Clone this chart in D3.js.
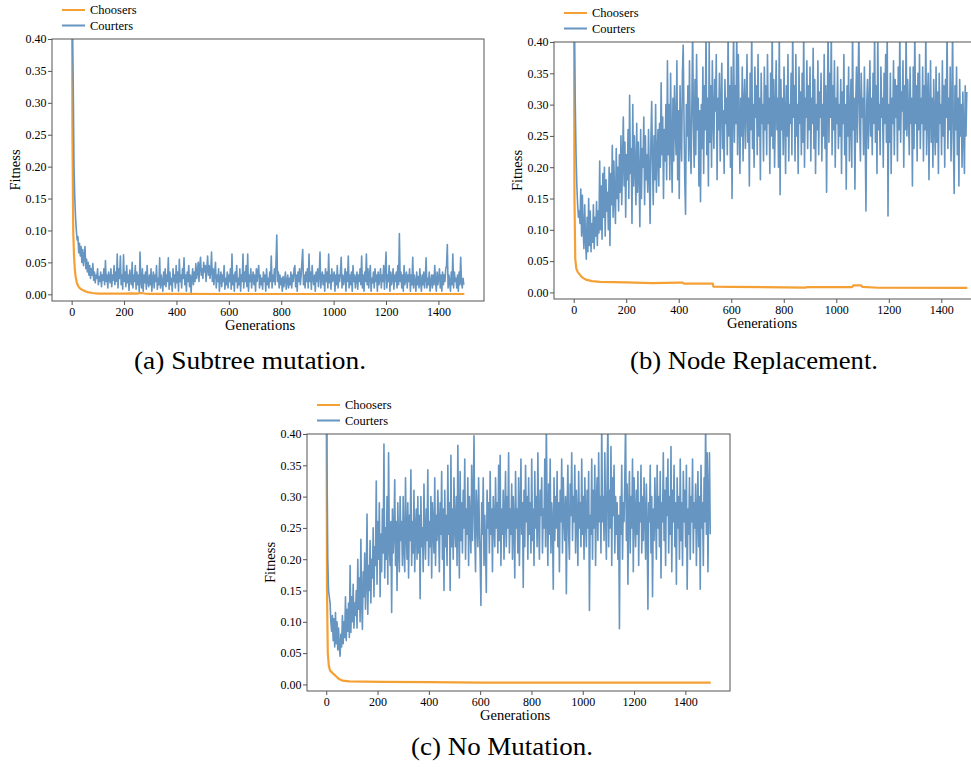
<!DOCTYPE html>
<html><head><meta charset="utf-8">
<script src="https://cdn.jsdelivr.net/npm/d3@7"></script>
<style>body{margin:0;background:#fff}svg{display:block}
text{font-family:"Liberation Serif","Tinos","DejaVu Serif","Noto Serif",serif}</style>
</head><body>
<svg id="fig" width="971" height="767"></svg>
<script>
// ---------- DATA ----------
const seriesNames = ["Choosers", "Courters"];
const captions = ["(a) Subtree mutation.", "(b) Node Replacement.", "(c) No Mutation."];
const xTicks = [0, 200, 400, 600, 800, 1000, 1200, 1400];
const yTicks = [0.00, 0.05, 0.10, 0.15, 0.20, 0.25, 0.30, 0.35, 0.40];
const courterStep = 3; // courter values every 3 generations: 0,3,...,1497

const courtersA = [
0.62,0.42,0.33,0.2,0.15,0.12,0.1,0.085,0.09,0.065,0.08,0.06,0.075,0.05,0.07,0.045,0.06,0.075,0.04,0.055,
0.035,0.05,0.03,0.045,0.025,0.04,0.03,0.048,0.022,0.035,0.018,0.03,0.025,0.04,0.015,0.028,0.02,0.035,0.012,0.03,
0.022,0.04,0.015,0.053,0.02,0.03,0.01,0.035,0.025,0.018,0.04,0.012,0.03,0.022,0.045,0.015,0.035,0.02,0.063,0.01,
0.04,0.025,0.06,0.015,0.03,0.008,0.062,0.02,0.035,0.012,0.045,0.018,0.03,0.006,0.038,0.025,0.015,0.05,0.01,0.03,
0.02,0.045,0.008,0.035,0.015,0.03,0.004,0.066,0.02,0.01,0.04,0.005,0.03,0.018,0.035,0.008,0.045,0.02,0.012,0.03,
0.015,0.04,0.005,0.025,0.035,0.01,0.03,0.02,0.045,0.008,0.025,0.015,0.057,0.01,0.03,0.02,0.005,0.035,0.015,0.04,
0.012,0.03,0.02,0.057,0.008,0.035,0.015,0.025,0.005,0.04,0.02,0.03,0.01,0.045,0.018,0.035,0.005,0.055,0.02,0.03,
0.01,0.04,0.025,0.057,0.015,0.03,0.005,0.035,0.02,0.045,0.012,0.03,0.003,0.025,0.04,0.015,0.035,0.02,0.048,0.025,
0.035,0.05,0.02,0.045,0.058,0.03,0.04,0.025,0.05,0.035,0.045,0.02,0.04,0.06,0.03,0.045,0.025,0.035,0.066,0.02,
0.04,0.015,0.035,0.05,0.01,0.03,0.02,0.04,0.005,0.025,0.035,0.012,0.03,0.02,0.045,0.008,0.025,0.015,0.035,0.01,
0.03,0.02,0.04,0.008,0.063,0.015,0.03,0.005,0.035,0.02,0.045,0.01,0.025,0.015,0.04,0.005,0.03,0.02,0.063,0.01,
0.035,0.02,0.045,0.012,0.063,0.005,0.03,0.02,0.04,0.01,0.025,0.035,0.015,0.03,0.005,0.04,0.02,0.035,0.045,0.01,
0.03,0.015,0.025,0.008,0.035,0.02,0.03,0.005,0.04,0.015,0.025,0.01,0.035,0.02,0.06,0.01,0.03,0.02,0.04,0.015,
0.05,0.093,0.02,0.035,0.01,0.03,0.015,0.025,0.005,0.028,0.012,0.022,0.035,0.008,0.02,0.03,0.01,0.025,0.015,0.035,
0.01,0.03,0.02,0.04,0.045,0.012,0.03,0.005,0.035,0.02,0.04,0.015,0.03,0.05,0.07,0.015,0.03,0.01,0.035,0.02,
0.04,0.01,0.063,0.02,0.035,0.008,0.045,0.025,0.015,0.03,0.005,0.035,0.02,0.04,0.012,0.03,0.066,0.01,0.025,0.035,
0.015,0.03,0.005,0.04,0.02,0.035,0.01,0.063,0.018,0.03,0.008,0.04,0.02,0.025,0.035,0.005,0.03,0.015,0.045,0.01,
0.03,0.02,0.035,0.058,0.01,0.03,0.015,0.025,0.04,0.005,0.035,0.02,0.06,0.01,0.03,0.015,0.035,0.005,0.045,0.02,
0.03,0.01,0.025,0.035,0.008,0.03,0.02,0.04,0.015,0.06,0.01,0.03,0.005,0.035,0.02,0.063,0.015,0.04,0.01,0.03,
0.045,0.005,0.025,0.018,0.035,0.01,0.04,0.02,0.03,0.005,0.035,0.015,0.025,0.04,0.01,0.03,0.02,0.045,0.008,0.035,
0.066,0.01,0.03,0.02,0.045,0.005,0.035,0.015,0.025,0.04,0.008,0.03,0.02,0.035,0.01,0.045,0.015,0.095,0.02,0.035,
0.01,0.03,0.005,0.045,0.015,0.025,0.035,0.01,0.03,0.02,0.04,0.005,0.03,0.015,0.058,0.01,0.03,0.02,0.005,0.035,
0.015,0.028,0.01,0.04,0.02,0.005,0.03,0.015,0.035,0.01,0.025,0.057,0.01,0.025,0.015,0.035,0.005,0.02,0.03,0.01,
0.03,0.015,0.045,0.02,0.005,0.035,0.015,0.025,0.04,0.01,0.03,0.005,0.035,0.015,0.03,0.02,0.04,0.045,0.078,0.01,
0.03,0.02,0.005,0.035,0.015,0.063,0.01,0.035,0.02,0.025,0.01,0.03,0.005,0.035,0.015,0.058,0.02,0.01,0.025,0.015
];
const courtersB = [
0.62,0.42,0.30,0.22,0.17,0.14,0.12,0.13,0.11,0.165,0.09,0.155,0.10,0.07,0.14,0.085,0.053,0.12,0.065,0.15,
0.075,0.13,0.065,0.11,0.08,0.14,0.07,0.12,0.09,0.145,0.075,0.13,0.095,0.21,0.10,0.17,0.085,0.19,0.12,0.20,
0.09,0.18,0.13,0.16,0.10,0.20,0.075,0.19,0.14,0.235,0.12,0.21,0.15,0.11,0.23,0.15,0.20,0.13,0.22,0.16,
0.25,0.14,0.21,0.28,0.17,0.24,0.12,0.22,0.18,0.26,0.15,0.315,0.19,0.23,0.11,0.30,0.17,0.25,0.20,0.14,
0.27,0.16,0.24,0.19,0.105,0.26,0.15,0.23,0.20,0.28,0.14,0.25,0.18,0.22,0.16,0.26,0.19,0.11,0.24,0.305,
0.21,0.14,0.25,0.18,0.30,0.16,0.22,0.26,0.17,0.27,0.20,0.335,0.22,0.28,0.15,0.26,0.21,0.30,0.18,0.37,
0.22,0.30,0.18,0.35,0.24,0.16,0.31,0.21,0.33,0.26,0.22,0.37,0.18,0.29,0.15,0.33,0.25,0.21,0.35,0.395,
0.28,0.18,0.125,0.30,0.25,0.33,0.21,0.37,0.24,0.19,0.30,0.42,0.27,0.20,0.34,0.22,0.38,0.26,0.31,0.17,
0.29,0.145,0.30,0.23,0.36,0.19,0.33,0.26,0.42,0.22,0.31,0.17,0.40,0.24,0.33,0.20,0.37,0.28,0.23,0.34,
0.29,0.38,0.18,0.31,0.26,0.35,0.21,0.30,0.366,0.23,0.29,0.19,0.34,0.27,0.31,0.22,0.42,0.25,0.33,0.20,
0.36,0.15,0.30,0.42,0.24,0.33,0.27,0.42,0.22,0.38,0.28,0.19,0.31,0.25,0.36,0.21,0.30,0.34,0.23,0.29,
0.38,0.24,0.31,0.17,0.35,0.26,0.42,0.23,0.30,0.20,0.36,0.28,0.33,0.22,0.38,0.25,0.31,0.18,0.35,0.27,
0.30,0.21,0.36,0.26,0.33,0.22,0.38,0.27,0.31,0.19,0.35,0.25,0.42,0.23,0.34,0.20,0.29,0.37,0.26,0.31,
0.20,0.42,0.156,0.34,0.26,0.31,0.22,0.36,0.28,0.19,0.33,0.25,0.38,0.21,0.30,0.27,0.35,0.22,0.42,0.28,
0.33,0.21,0.38,0.25,0.30,0.19,0.36,0.27,0.32,0.22,0.35,0.24,0.42,0.20,0.31,0.28,0.37,0.23,0.33,0.26,
0.36,0.21,0.31,0.27,0.39,0.23,0.34,0.19,0.30,0.26,0.37,0.22,0.32,0.28,0.35,0.21,0.30,0.25,0.38,0.23,
0.33,0.16,0.30,0.42,0.24,0.35,0.28,0.42,0.22,0.33,0.26,0.37,0.20,0.31,0.27,0.36,0.23,0.30,0.25,0.34,
0.19,0.32,0.27,0.38,0.22,0.30,0.165,0.33,0.25,0.36,0.21,0.28,0.34,0.20,0.42,0.26,0.31,0.165,0.30,0.36,
0.24,0.33,0.42,0.27,0.21,0.35,0.28,0.31,0.22,0.36,0.26,0.13,0.30,0.34,0.23,0.29,0.37,0.25,0.31,0.22,
0.35,0.27,0.42,0.24,0.33,0.19,0.42,0.26,0.30,0.22,0.36,0.28,0.31,0.20,0.35,0.27,0.38,0.24,0.42,0.122,
0.30,0.24,0.35,0.19,0.31,0.27,0.37,0.22,0.34,0.28,0.33,0.21,0.36,0.26,0.42,0.24,0.32,0.29,0.37,0.20,
0.33,0.26,0.42,0.25,0.34,0.28,0.22,0.36,0.27,0.31,0.17,0.36,0.23,0.42,0.27,0.33,0.21,0.35,0.26,0.38,
0.23,0.31,0.27,0.36,0.21,0.33,0.26,0.42,0.22,0.30,0.35,0.18,0.29,0.37,0.24,0.31,0.20,0.34,0.27,0.22,
0.36,0.24,0.32,0.19,0.35,0.27,0.30,0.22,0.37,0.25,0.33,0.20,0.34,0.28,0.42,0.23,0.31,0.26,0.36,0.21,
0.29,0.42,0.24,0.158,0.33,0.26,0.36,0.22,0.31,0.17,0.34,0.25,0.30,0.20,0.32,0.26,0.19,0.33,0.25,0.32
];
const courtersC = [
0.62,0.35,0.20,0.15,0.14,0.13,0.10,0.085,0.11,0.07,0.105,0.06,0.115,0.065,0.10,0.055,0.09,0.06,0.045,0.08,
0.06,0.11,0.065,0.10,0.075,0.14,0.07,0.12,0.085,0.13,0.075,0.19,0.083,0.14,0.10,0.16,0.09,0.13,0.11,0.15,
0.09,0.20,0.12,0.17,0.10,0.232,0.13,0.088,0.18,0.14,0.21,0.12,0.17,0.272,0.112,0.19,0.15,0.23,0.13,0.20,
0.17,0.25,0.14,0.22,0.19,0.325,0.16,0.26,0.20,0.29,0.14,0.24,0.18,0.28,0.21,0.384,0.17,0.25,0.20,0.30,
0.16,0.37,0.22,0.19,0.26,0.115,0.28,0.21,0.24,0.327,0.19,0.26,0.15,0.29,0.22,0.18,0.30,0.23,0.26,0.19,
0.30,0.22,0.18,0.33,0.24,0.20,0.29,0.17,0.27,0.23,0.343,0.19,0.26,0.21,0.31,0.18,0.25,0.28,0.20,0.30,
0.21,0.27,0.137,0.30,0.22,0.25,0.18,0.32,0.24,0.20,0.28,0.23,0.343,0.19,0.26,0.22,0.30,0.17,0.29,0.25,
0.21,0.33,0.19,0.27,0.23,0.31,0.26,0.18,0.29,0.24,0.34,0.20,0.28,0.15,0.31,0.22,0.27,0.19,0.35,0.24,
0.29,0.15,0.366,0.22,0.28,0.20,0.33,0.25,0.22,0.30,0.19,0.382,0.26,0.17,0.34,0.23,0.29,0.21,0.31,0.25,
0.36,0.20,0.28,0.24,0.33,0.19,0.30,0.26,0.21,0.35,0.23,0.29,0.397,0.24,0.18,0.31,0.27,0.22,0.33,0.25,
0.20,0.126,0.29,0.24,0.33,0.19,0.27,0.22,0.147,0.31,0.25,0.29,0.21,0.34,0.24,0.28,0.18,0.30,0.26,0.22,
0.33,0.25,0.29,0.21,0.35,0.23,0.366,0.19,0.28,0.24,0.31,0.20,0.27,0.34,0.22,0.30,0.25,0.37,0.21,0.28,
0.24,0.32,0.20,0.30,0.26,0.17,0.34,0.25,0.28,0.21,0.33,0.19,0.27,0.36,0.24,0.29,0.155,0.31,0.22,0.35,
0.26,0.30,0.20,0.33,0.24,0.29,0.21,0.36,0.23,0.28,0.19,0.34,0.25,0.30,0.22,0.37,0.26,0.20,0.31,0.27,
0.33,0.21,0.28,0.25,0.36,0.22,0.42,0.27,0.19,0.32,0.24,0.36,0.21,0.29,0.26,0.152,0.33,0.23,0.30,0.25,
0.34,0.22,0.29,0.18,0.31,0.26,0.36,0.21,0.33,0.27,0.23,0.30,0.145,0.28,0.35,0.24,0.20,0.32,0.27,0.37,
0.23,0.30,0.26,0.35,0.21,0.31,0.27,0.19,0.34,0.25,0.29,0.22,0.36,0.24,0.30,0.20,0.33,0.27,0.22,0.31,
0.25,0.34,0.118,0.27,0.24,0.36,0.20,0.31,0.25,0.35,0.19,0.29,0.33,0.23,0.37,0.26,0.30,0.21,0.42,0.26,
0.30,0.23,0.37,0.27,0.20,0.33,0.42,0.22,0.31,0.25,0.38,0.19,0.33,0.27,0.35,0.21,0.30,0.24,0.29,0.20,
0.27,0.089,0.30,0.24,0.35,0.20,0.29,0.26,0.33,0.42,0.23,0.32,0.16,0.28,0.34,0.21,0.30,0.25,0.36,0.18,
0.33,0.27,0.22,0.31,0.24,0.34,0.19,0.29,0.26,0.35,0.21,0.30,0.23,0.33,0.27,0.20,0.32,0.25,0.12,0.29,
0.26,0.35,0.21,0.30,0.14,0.28,0.23,0.33,0.27,0.20,0.35,0.25,0.30,0.22,0.34,0.17,0.29,0.26,0.37,0.23,
0.31,0.19,0.33,0.27,0.36,0.21,0.30,0.24,0.38,0.18,0.31,0.26,0.35,0.22,0.29,0.16,0.33,0.25,0.30,0.20,
0.36,0.23,0.29,0.19,0.34,0.26,0.31,0.22,0.35,0.152,0.28,0.24,0.33,0.20,0.30,0.26,0.36,0.21,0.29,0.25,
0.32,0.19,0.27,0.34,0.22,0.30,0.152,0.35,0.25,0.29,0.19,0.33,0.26,0.42,0.24,0.37,0.18,0.30,0.37,0.24
];

const chooserGensA = [0,3,6,9,12,15,20,25,30,40,50,60,80,100,150,200,230,250,265,280,300,400,600,800,1000,1200,1499];
const choosersA   = [0.62,0.25,0.10,0.06,0.04,0.028,0.018,0.013,0.01,0.007,0.005,0.0035,0.002,0.0012,0.001,0.0012,0.0015,0.001,0.002,0.0012,0.0008,0.0006,0.0005,0.0005,0.0005,0.0005,0.0005];
const chooserGensB = [0,3,6,10,15,20,30,40,50,70,100,150,200,300,400,415,420,530,532,600,800,880,890,1060,1065,1095,1100,1160,1499];
const choosersB   = [0.62,0.15,0.053,0.038,0.033,0.03,0.025,0.022,0.02,0.018,0.017,0.0165,0.016,0.015,0.0155,0.0155,0.014,0.014,0.0092,0.0088,0.0082,0.0078,0.0085,0.0085,0.0112,0.0112,0.0088,0.0075,0.0072];
const chooserGensC = [0,3,6,10,15,20,25,38,50,64,90,150,220,400,608,800,1200,1499];
const choosersC   = [0.62,0.15,0.051,0.03,0.022,0.02,0.018,0.013,0.0085,0.006,0.005,0.0045,0.004,0.0038,0.003,0.003,0.003,0.003];

// ---------- STYLE / LAYOUT ----------
const ORANGE = "#f5a034", BLUE = "#6595c0", SPINE = "#555";
const panels = [
  {l:52, r:484, t:39, b:301, co:courtersA, chG:chooserGensA, ch:choosersA, capX:250, capY:369},
  {l:554, r:987, t:42, b:299, co:courtersB, chG:chooserGensB, ch:choosersB, capX:754, capY:369},
  {l:307, r:730, t:434, b:691, co:courtersC, chG:chooserGensC, ch:choosersC, capX:502, capY:755}
];
const capWidths = [232, 248, 182];

const svg = d3.select("#fig");
const defs = svg.append("defs");

panels.forEach((p, idx) => {
  const x = d3.scaleLinear().domain([-75, 1574]).range([p.l, p.r]);
  const y = d3.scaleLinear().domain([-0.0105, 0.4]).range([p.b, p.t]);
  const clipId = "clip" + idx;
  defs.append("clipPath").attr("id", clipId).append("rect")
    .attr("x", p.l).attr("y", p.t).attr("width", p.r - p.l).attr("height", p.b - p.t);
  const g = svg.append("g");
  const line = d3.line().x(d => x(d[0])).y(d => y(d[1]));

  g.append("path").datum(p.chG.map((gg, i) => [gg, p.ch[i]]))
    .attr("clip-path", `url(#${clipId})`).attr("d", line)
    .attr("fill", "none").attr("stroke", ORANGE).attr("stroke-width", 2.2)
    .attr("stroke-linejoin", "round");
  g.append("path").datum(p.co.map((v, i) => [i * courterStep, v]))
    .attr("clip-path", `url(#${clipId})`).attr("d", line)
    .attr("fill", "none").attr("stroke", BLUE).attr("stroke-width", 1.6)
    .attr("stroke-linejoin", "round");

  const xa = g.append("g").attr("transform", `translate(0,${p.b})`)
    .call(d3.axisBottom(x).tickValues(xTicks).tickSize(4).tickPadding(2).tickFormat(d3.format("d")));
  const ya = g.append("g").attr("transform", `translate(${p.l},0)`)
    .call(d3.axisLeft(y).tickValues(yTicks).tickSize(4).tickPadding(1.5).tickFormat(d3.format(".2f")));
  [xa, ya].forEach(a => {
    a.attr("font-family", null).attr("font-size", null);
    a.select(".domain").remove();
    a.selectAll(".tick line").attr("stroke", SPINE);
    a.selectAll(".tick text").attr("fill", "#000").style("font-size", "12px");
  });
  g.append("rect").attr("x", p.l).attr("y", p.t).attr("width", p.r - p.l).attr("height", p.b - p.t)
    .attr("fill", "none").attr("stroke", SPINE).attr("stroke-width", 1);

  g.append("text").attr("x", p.l + 208).attr("y", p.b + 29).attr("text-anchor", "middle")
    .style("font-size", "14.5px").text("Generations");
  g.append("text").attr("transform", `translate(${p.l - 32},${(p.t + p.b) / 2}) rotate(-90)`)
    .attr("text-anchor", "middle").style("font-size", "14.5px").text("Fitness");

  [ORANGE, BLUE].forEach((c, k) => {
    const ly = p.t - 29 + k * 15.5;
    g.append("line").attr("x1", p.l + 10).attr("x2", p.l + 33).attr("y1", ly).attr("y2", ly)
      .attr("stroke", c).attr("stroke-width", 2);
    g.append("text").attr("x", p.l + 38).attr("y", ly).attr("dy", "0.35em")
      .style("font-size", "12.5px").text(seriesNames[k]);
  });

  svg.append("text").attr("x", p.capX).attr("y", p.capY).attr("text-anchor", "middle")
    .attr("textLength", capWidths[idx]).attr("lengthAdjust", "spacingAndGlyphs")
    .style("font-size", "25px").text(captions[idx]);
});
</script>
</body></html>
